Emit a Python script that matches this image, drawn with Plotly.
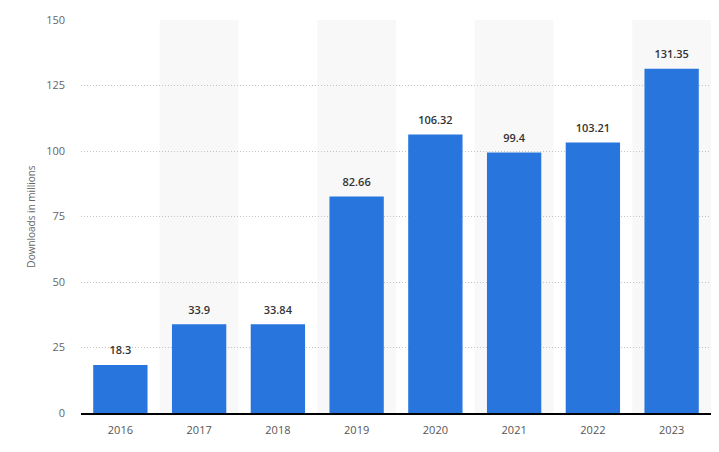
import plotly.graph_objects as go

years = ["2016", "2017", "2018", "2019", "2020", "2021", "2022", "2023"]
downloads = [18.3, 33.9, 33.84, 82.66, 106.32, 99.4, 103.21, 131.35]
labels = ["18.3", "33.9", "33.84", "82.66", "106.32", "99.4", "103.21", "131.35"]
y_ticks = [0, 25, 50, 75, 100, 125, 150]

fig = go.Figure()
fig.add_trace(go.Bar(
    x=years, y=downloads,
    marker=dict(color="#2876dd", line=dict(width=0)),
    hoverinfo="x+y",
))
fig.add_trace(go.Scatter(
    x=years, y=downloads, mode="markers+text", text=labels,
    marker=dict(size=11, color="rgba(0,0,0,0)"),
    textposition="top center", cliponaxis=False, hoverinfo="skip",
    textfont=dict(family="Open Sans", size=11, color="#333333", weight=600),
))

shapes = []
for i in range(len(years)):
    if i % 2 == 1:
        shapes.append(dict(type="rect", xref="x", yref="y", x0=i - 0.5, x1=i + 0.5,
                           y0=0, y1=150, fillcolor="#f8f8f8", line=dict(width=0),
                           layer="below"))

fig.update_layout(
    width=711, height=444,
    margin=dict(l=73, r=8, t=12, b=39),
    paper_bgcolor="white", plot_bgcolor="white",
    bargap=0.31,
    showlegend=False,
    shapes=shapes,
    font=dict(family="Open Sans", size=11, color="#666666"),
    xaxis=dict(type="category", showgrid=False, showline=True, linecolor="#000000",
               linewidth=1.5, ticks="", tickfont=dict(size=11, color="#555555"),
               ticklabelstandoff=6, automargin=False,
               range=[-0.5, 7.5]),
    yaxis=dict(range=[0, 150], tickvals=y_ticks, showgrid=True, gridcolor="#c4c4c4",
               griddash="1px,2px", gridwidth=1, zeroline=False, ticks="",
               ticklabelstandoff=15, automargin=False,
               tickfont=dict(size=11, color="#666666"),
               title=dict(text="Downloads in millions", font=dict(size=10, color="#666666"),
                          standoff=8)),
)

fig.write_html("out.html")
